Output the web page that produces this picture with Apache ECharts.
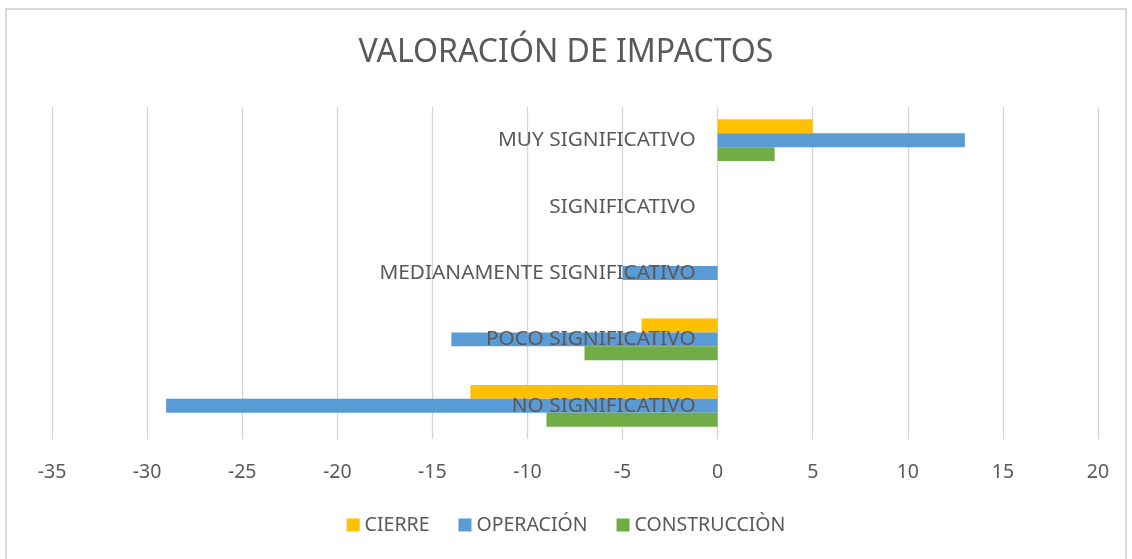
<!DOCTYPE html>
<html>
<head>
<meta charset="utf-8">
<script src="https://cdn.jsdelivr.net/npm/echarts@6/dist/echarts.min.js"></script>
<style>
html,body{margin:0;padding:0;background:#fff;}
#frame{position:absolute;left:5px;top:8px;width:1122px;height:560px;border:2px solid #d9d9d9;box-sizing:border-box;}
#chart{position:absolute;left:0;top:0;width:1132px;height:559px;}
</style>
</head>
<body>
<div id="frame"></div>
<div id="chart"></div>
<script>
const categories = ['NO SIGNIFICATIVO', 'POCO SIGNIFICATIVO', 'MEDIANAMENTE SIGNIFICATIVO', 'SIGNIFICATIVO', 'MUY SIGNIFICATIVO'];
const cierre = [-13, -4, 0, 0, 5];
const operacion = [-29, -14, -5, 0, 13];
const construccion = [-9, -7, 0, 0, 3];
const xTicks = { min: -35, max: 20, interval: 5 };

const font = 'Noto Sans';
const txt = '#595959';
const gridLeft = 52, gridRight = 34;
const plotW = 1132 - gridLeft - gridRight;
// place the category axis at value 0
const zeroOffset = -plotW * (0 - xTicks.min) / (xTicks.max - xTicks.min);

const chart = echarts.init(document.getElementById('chart'));
chart.setOption({
  animation: false,
  title: {
    text: 'VALORACIÓN DE IMPACTOS',
    left: 'center', top: 32,
    textStyle: { fontFamily: font, fontSize: 32, fontWeight: 'normal', color: txt }
  },
  legend: {
    data: ['CIERRE', 'OPERACIÓN', 'CONSTRUCCIÒN'],
    left: 'center', top: 510,
    icon: 'rect', itemWidth: 13, itemHeight: 13, itemGap: 29,
    textStyle: { fontFamily: font, fontSize: 19.5, color: txt }
  },
  grid: { left: gridLeft, right: gridRight, top: 107, bottom: 120, outerBoundsMode: 'none' },
  xAxis: {
    type: 'value', min: xTicks.min, max: xTicks.max, interval: xTicks.interval,
    axisLine: { show: false }, axisTick: { show: false },
    splitLine: { show: true, lineStyle: { color: '#d6d6d6', width: 1.3 } },
    axisLabel: { fontFamily: font, fontSize: 19.5, color: txt, margin: 23 }
  },
  yAxis: {
    type: 'category', data: categories, z: 10, offset: zeroOffset,
    axisLine: { show: false, onZero: false }, axisTick: { show: false },
    axisLabel: { fontFamily: font, fontSize: 20.8, color: txt, margin: 22 }
  },
  series: [
    { name: 'CIERRE', type: 'bar', data: cierre, itemStyle: { color: '#FFC000' }, barGap: '0%', barCategoryGap: '37%' },
    { name: 'OPERACIÓN', type: 'bar', data: operacion, itemStyle: { color: '#5B9BD5' }, barGap: '0%', barCategoryGap: '37%' },
    { name: 'CONSTRUCCIÒN', type: 'bar', data: construccion, itemStyle: { color: '#70AD47' }, barGap: '0%', barCategoryGap: '37%' }
  ]
});
</script>
</body>
</html>
